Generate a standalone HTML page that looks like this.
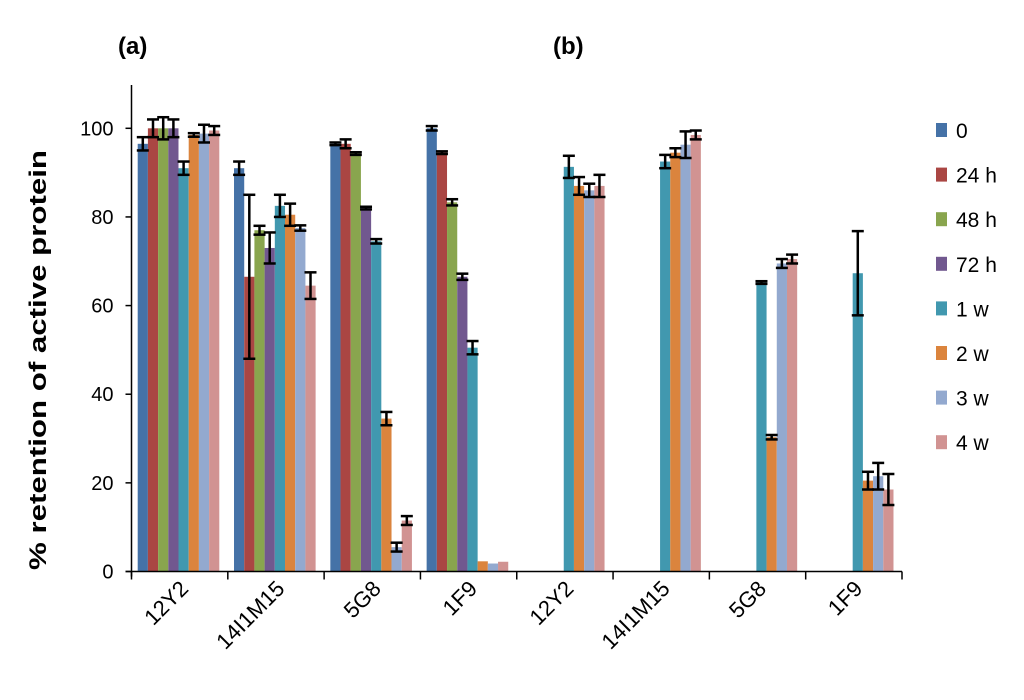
<!DOCTYPE html>
<html><head><meta charset="utf-8"><style>
html,body{margin:0;padding:0;background:#fff;}
svg{display:block;font-family:"Liberation Sans",Calibri,sans-serif;}
</style></head><body>
<svg id="chart" width="1024" height="700" viewBox="0 0 1024 700">
<text x="118" y="54" font-size="24" font-weight="bold">(a)</text>
<text x="553" y="54" font-size="24" font-weight="bold">(b)</text>
<text transform="translate(46,360) rotate(-90)" text-anchor="middle" font-size="24" font-weight="bold" textLength="420" lengthAdjust="spacingAndGlyphs">% retention of active protein</text>
<g id="plot"></g>
</svg>
<script>
const categories = ["12Y2","14I1M15","5G8","1F9","12Y2","14I1M15","5G8","1F9"];
const seriesNames = ["0","24 h","48 h","72 h","1 w","2 w","3 w","4 w"];
const seriesColors = ["#4572A7","#AA4643","#89A54E","#71588F","#4198AF","#DB843D","#93A9CF","#D19392"];
// values[category][series], null = no bar
const values = [
 [96.5,100,100,100,91,98.5,98.8,99.5],
 [91,66.5,77,73,82.5,80.5,77.5,64.5],
 [96.5,96.5,94.3,82,74.5,34.5,5.5,11.5],
 [100,94.5,83.3,66.5,50.5,2.3,1.8,2.2],
 [null,null,null,null,91.3,87,86,87],
 [null,null,null,null,92.5,94.5,96.3,98.5],
 [null,null,null,null,65.2,30.3,69.5,70.5],
 [null,null,null,null,67.3,20.5,21.5,18.5]
];
const errors = [
 [1.5,2,2.5,2,1.5,0.4,2,1],
 [1.5,18.5,1,3.5,2.5,2.5,0.6,3],
 [0.3,1,0.3,0.3,0.5,1.5,1,1],
 [0.5,0.3,0.7,0.7,1.5,0,0,0],
 [null,null,null,null,2.5,2,1.5,2.5],
 [null,null,null,null,1.5,1,3,1],
 [null,null,null,null,0.3,0.5,1,1],
 [null,null,null,null,9.5,2,3,3.5]
];
const yTicks = [0,20,40,60,80,100];

const NS="http://www.w3.org/2000/svg";
const g=document.getElementById('plot');
const x0=131.5, x1=902, y0=571.5, yTop=128.3, yMaxVal=100;
const gw=(x1-x0)/categories.length, bw=10.2, padL=6.2;
function yS(v){return y0-(v/yMaxVal)*(y0-yTop);}
function mk(t,a){const e=document.createElementNS(NS,t);for(const k in a)e.setAttribute(k,a[k]);g.appendChild(e);return e;}

categories.forEach((c,ci)=>{
  const gx=x0+ci*gw;
  values[ci].forEach((v,si)=>{
    if(v===null)return;
    const bx=gx+padL+si*bw;
    const r=mk('rect',{x:bx,y:yS(v),width:bw,height:y0-yS(v),fill:seriesColors[si]});
    
    
  });
});
categories.forEach((c,ci)=>{
  const gx=x0+ci*gw;
  values[ci].forEach((v,si)=>{
    const e=errors[ci][si];
    if(v===null||!e)return;
    const cx=gx+padL+si*bw+bw/2;
    const eg=document.createElementNS(NS,'g');
    
    
    eg.setAttribute('stroke','#000');eg.setAttribute('stroke-width','2.5');
    const a=yS(v+e),b=yS(v-e);
    eg.innerHTML=`<line x1="${cx}" x2="${cx}" y1="${a}" y2="${b}"/><line x1="${cx-6}" x2="${cx+6}" y1="${a}" y2="${a}"/><line x1="${cx-6}" x2="${cx+6}" y1="${b}" y2="${b}"/>`;
    g.appendChild(eg);
  });
});
// axes
const ya=mk('line',{x1:x0,x2:x0,y1:85,y2:y0+5,stroke:'#000','stroke-width':1.5});


const xa=mk('line',{x1:x0-6,x2:x1,y1:y0,y2:y0,stroke:'#000','stroke-width':1.5});


yTicks.forEach(t=>{
  const y=yS(t);
  const tk=mk('line',{x1:x0-6,x2:x0,y1:y,y2:y,stroke:'#000','stroke-width':1.5});
  
  
  const tl=mk('text',{x:x0-18,y:y+7,'text-anchor':'end','font-size':20});
  tl.textContent=t;
  
  
});
for(let i=0;i<=categories.length;i++){
  const x=x0+i*gw;
  const tk=mk('line',{x1:x,x2:x,y1:y0,y2:y0+8,stroke:'#000','stroke-width':1.5});
  
  
}
categories.forEach((c,ci)=>{
  const cx=x0+(ci+0.5)*gw+10, cy=590;
  const t=mk('text',{x:cx,y:cy,'text-anchor':'end','font-size':22,transform:`rotate(-45 ${cx} ${cy})`});
  t.textContent=c;
  
  
});
// legend
seriesNames.forEach((n,i)=>{
  const ly=130+i*44.6;
  const r=mk('rect',{x:936,y:ly-7,width:11,height:14,fill:seriesColors[i]});
  
  
  const t=mk('text',{x:956,y:ly+8,'font-size':21});
  t.textContent=n;
  
  
});
</script>
</body></html>
